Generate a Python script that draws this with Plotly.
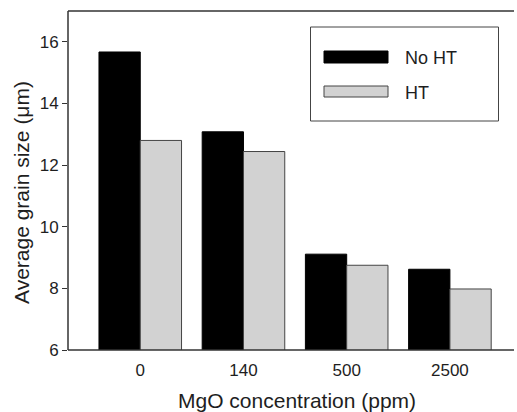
import plotly.graph_objects as go

categories = ["0", "140", "500", "2500"]
no_ht = [15.67, 13.08, 9.11, 8.62]
ht = [12.80, 12.44, 8.75, 7.98]
series_names = ["No HT", "HT"]
x_title = "MgO concentration (ppm)"
y_title = "Average grain size (μm)"

W, H = 517, 412
L, R, T, B = 68, 0, 11, 62
pw, ph = W - L - R, H - T - B

def px(x):
    return (x - L) / pw

def py(y):
    return (H - B - y) / ph

FONT = "Liberation Sans, Arial, sans-serif"
TXT = "#1e1e1e"
LINE = "#333333"
GRAY = "#d2d2d2"

fig = go.Figure()
fig.add_trace(go.Bar(x=categories, y=no_ht, name=series_names[0],
                     marker=dict(color="#000000", line=dict(color="#000000", width=1)),
                     showlegend=False))
fig.add_trace(go.Bar(x=categories, y=ht, name=series_names[1],
                     marker=dict(color=GRAY, line=dict(color="#444444", width=1)),
                     showlegend=False))

x_end = px(514)
shapes = [
    dict(type="line", xref="paper", yref="paper", x0=0, x1=0, y0=0, y1=1,
         line=dict(color=LINE, width=1.5)),
    dict(type="line", xref="paper", yref="paper", x0=0, x1=x_end, y0=0, y1=0,
         line=dict(color=LINE, width=1.5)),
    dict(type="line", xref="paper", yref="paper", x0=0, x1=x_end, y0=1, y1=1,
         line=dict(color=LINE, width=1.5)),
    dict(type="rect", xref="paper", yref="paper", x0=px(310.5), x1=px(498.5), y0=py(121), y1=py(27),
         line=dict(color="#444444", width=1), fillcolor="white"),
    dict(type="rect", xref="paper", yref="paper", x0=px(324), x1=px(388), y0=py(63), y1=py(51),
         line=dict(color="#000000", width=1), fillcolor="#000000"),
    dict(type="rect", xref="paper", yref="paper", x0=px(324), x1=px(388), y0=py(97), y1=py(86),
         line=dict(color="#444444", width=1), fillcolor=GRAY),
]
annotations = [
    dict(text=series_names[0], xref="paper", yref="paper", x=px(403), y=py(57.5), xanchor="left",
         yanchor="middle", showarrow=False, font=dict(family=FONT, size=18, color=TXT)),
    dict(text=series_names[1], xref="paper", yref="paper", x=px(403), y=py(92.5), xanchor="left",
         yanchor="middle", showarrow=False, font=dict(family=FONT, size=18, color=TXT)),
    dict(text=x_title, xref="paper", yref="paper", x=px(297), y=py(400), xanchor="center",
         yanchor="middle", showarrow=False, font=dict(family=FONT, size=21, color=TXT)),
    dict(text=y_title, xref="paper", yref="paper", x=px(21), y=py(193), xanchor="center",
         yanchor="middle", textangle=-90, showarrow=False, font=dict(family=FONT, size=21, color=TXT)),
]

fig.update_layout(
    width=W, height=H,
    margin=dict(l=L, r=R, t=T, b=B),
    paper_bgcolor="white", plot_bgcolor="white",
    barmode="group", bargap=0.2, bargroupgap=0,
    font=dict(family=FONT, size=17, color=TXT),
    shapes=shapes, annotations=annotations,
    showlegend=False,
)
fig.update_xaxes(type="category", range=[-0.7, 3.65], showline=False,
                 ticks="outside", ticklen=5, tickcolor="rgba(0,0,0,0)",
                 showgrid=False, zeroline=False,
                 tickfont=dict(size=17, color=TXT))
fig.update_yaxes(range=[6, 17], dtick=2, tick0=6, showline=False,
                 ticks="outside", ticklen=5, tickcolor=LINE, showgrid=False, zeroline=False,
                 tickfont=dict(size=17, color=TXT))

fig.write_html("out.html")
